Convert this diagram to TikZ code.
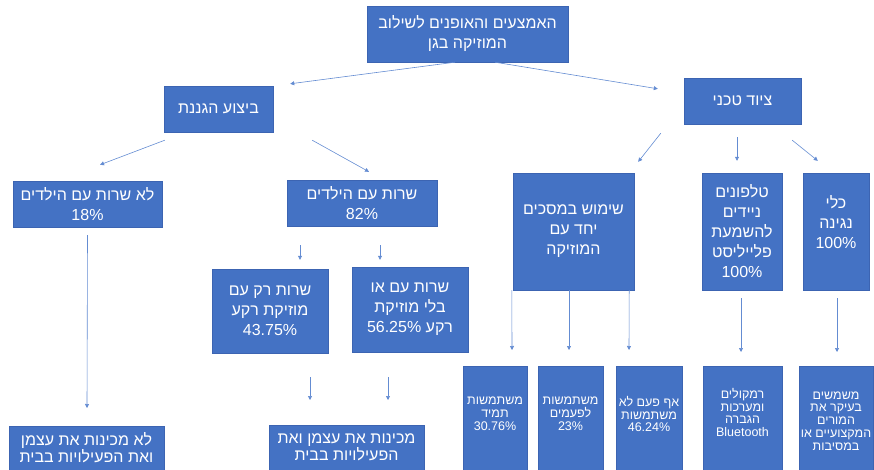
\documentclass[tikz,border=0pt]{standalone}
\usepackage{fontspec}
\setmainfont{Liberation Sans}
\newfontfamily\heb[Script=Hebrew]{Liberation Sans}
\TeXXeTstate=1
\usetikzlibrary{arrows.meta}
\definecolor{boxblue}{RGB}{68,114,196}
\definecolor{boxedge}{RGB}{60,100,178}
\definecolor{arrblue}{RGB}{100,140,210}
\newcommand{\hbr}[1]{\beginR #1\endR}
\begin{document}
\begin{tikzpicture}[x=1pt,y=-1pt,
  box/.style={fill=boxblue,draw=boxedge,line width=0.4pt,text=white,align=center,inner sep=0pt,font=\heb\fontsize{16}{20}\selectfont},
  sbox/.style={fill=boxblue,draw=boxedge,line width=0.4pt,inner sep=0pt,anchor=north,minimum height=120pt},
  lbl/.style={text=white,align=center,inner sep=0pt,font=\heb\fontsize{16}{15.5}\selectfont},
  slbl/.style={text=white,align=center,inner sep=0pt,font=\heb\fontsize{12.5}{12.8}\selectfont},
  arr/.style={draw=arrblue,line width=0.6pt,-{Triangle[width=4pt,length=4pt]}}]
\useasboundingbox (0,0) rectangle (874,470);
\clip (0,0) rectangle (874,470);
% main boxes
\node[box,minimum width=201pt,minimum height=56pt] (top) at (467.5,34) {\hbr{האמצעים והאופנים לשילוב}\\\hbr{המוזיקה בגן}};
\node[box,minimum width=109pt,minimum height=46pt] (biz) at (218.5,109) {\hbr{ביצוע הגננת}};
\node[box,minimum width=117pt,minimum height=46pt] (tek) at (742.5,101) {\hbr{ציוד טכני}};
\node[box,minimum width=149pt,minimum height=46pt] (no18) at (87.5,204) {\hbr{לא שרות עם הילדים}\\18\%};
\node[box,minimum width=150pt,minimum height=46pt] (s82) at (362,203) {\hbr{שרות עם הילדים}\\82\%};
\node[box,minimum width=116pt,minimum height=84pt] (rk) at (270,311) {\hbr{שרות רק עם}\\\hbr{מוזיקת רקע}\\43.75\%};
\node[box,minimum width=116pt,minimum height=85pt] (ob) at (410,309.5) {\hbr{שרות עם או}\\\hbr{בלי מוזיקת}\\\hbr{רקע \beginL56.25\%\endL}};
\node[box,minimum width=121pt,minimum height=117pt] (shim) at (573.5,231.5) {\hbr{שימוש במסכים}\\\hbr{יחד עם}\\\hbr{המוזיקה}};
\node[box,minimum width=80pt,minimum height=117pt] (tel) at (742,231.5) {\hbr{טלפונים}\\\hbr{ניידים}\\\hbr{להשמעת}\\\hbr{פלייליסט}\\100\%};
\node[box,minimum width=66pt,minimum height=117pt] (kli) at (836,231.5) {};
\node[lbl,font=\heb\fontsize{16}{20}\selectfont] (klit) at ([yshift=9pt]kli.center) {\hbr{כלי}\\\hbr{נגינה}\\100\%};
% bottom boxes
\node[sbox,minimum width=155pt] (bot1) at (86.5,426) {};
\node[lbl] (bot1t) at ([yshift=-22pt]bot1.north) {\hbr{לא מכינות את עצמן}\\\hbr{ואת הפעילויות בבית}};
\node[sbox,minimum width=155pt] (bot2) at (346.5,425) {};
\node[lbl] (bot2t) at ([yshift=-22pt]bot2.north) {\hbr{מכינות את עצמן ואת}\\\hbr{הפעילויות בבית}};
\node[sbox,minimum width=64pt] (m1) at (495,366) {};
\node[slbl] (m1t) at ([yshift=-48pt]m1.north) {\hbr{משתמשות}\\\hbr{תמיד}\\30.76\%};
\node[sbox,minimum width=65pt] (m2) at (570.5,366) {};
\node[slbl] (m2t) at ([yshift=-48pt]m2.north) {\hbr{משתמשות}\\\hbr{לפעמים}\\23\%};
\node[sbox,minimum width=66pt] (m3) at (649,366) {};
\node[slbl] (m3t) at ([yshift=-48pt]m3.north) {\hbr{אף פעם לא}\\\hbr{משתמשות}\\46.24\%};
\node[sbox,minimum width=79pt] (m4) at (742.5,366) {};
\node[slbl] (m4t) at ([yshift=-46.5pt]m4.north) {\hbr{רמקולים}\\\hbr{ומערכות}\\\hbr{הגברה}\\Bluetooth};
\node[sbox,minimum width=74pt] (m5) at (836,366) {};
\node[slbl] (m5t) at ([yshift=-55pt]m5.north) {\hbr{משמשים}\\\hbr{בעיקר את}\\\hbr{המורים}\\\hbr{המקצועיים או}\\\hbr{במסיבות}};
% connectors
\draw[arr] ([xshift=-12.5pt]top.south) -- ([xshift=17pt,yshift=2pt]biz.north east);
\draw[arr] ([xshift=27.5pt]top.south) -- ([xshift=-26pt,yshift=-11pt]tek.north west);
\draw[arr] ([xshift=1pt,yshift=-8pt]biz.south west) -- ([xshift=12.5pt,yshift=16pt]no18.north);
\draw[arr] ([xshift=39pt,yshift=-8pt]biz.south east) -- ([xshift=7pt,yshift=8pt]s82.north);
\draw[arr] ([xshift=-62pt,yshift=-19pt]s82.south) -- ([xshift=30pt,yshift=9pt]rk.north);
\draw[arr] ([xshift=18pt,yshift=-19pt]s82.south) -- ([xshift=-30pt,yshift=7pt]ob.north);
\draw[arr] ([yshift=-8pt]no18.south) -- ([xshift=0.5pt,yshift=18pt]bot1.north);
\draw[arr] ([xshift=40pt,yshift=-24pt]rk.south) -- ([xshift=-36.5pt,yshift=25pt]bot2.north);
\draw[arr] ([xshift=-22pt,yshift=-25pt]ob.south) -- ([xshift=41.5pt,yshift=25pt]bot2.north);
\draw[arr] ([xshift=-23pt,yshift=-9pt]tek.south west) -- ([xshift=4pt,yshift=11pt]shim.north east);
\draw[arr] ([xshift=-5.5pt,yshift=-13pt]tek.south) -- ([xshift=-5pt,yshift=12pt]tel.north);
\draw[arr] ([xshift=-9pt,yshift=-16pt]tek.south east) -- ([xshift=15pt,yshift=12pt]kli.north west);
\draw[arr] ([xshift=-1pt]shim.south west) -- ([xshift=17pt,yshift=16pt]m1.north);
\draw[arr] ([xshift=-4.5pt]shim.south) -- ([xshift=-1.5pt,yshift=16pt]m2.north);
\draw[arr] ([xshift=-5pt]shim.south east) -- ([xshift=-20pt,yshift=16pt]m3.north);
\draw[arr] ([xshift=-1pt,yshift=-8pt]tel.south) -- ([xshift=-1.5pt,yshift=14pt]m4.north);
\draw[arr] ([xshift=1pt,yshift=-8pt]kli.south) -- ([xshift=1pt,yshift=14pt]m5.north);
\end{tikzpicture}
\end{document}
